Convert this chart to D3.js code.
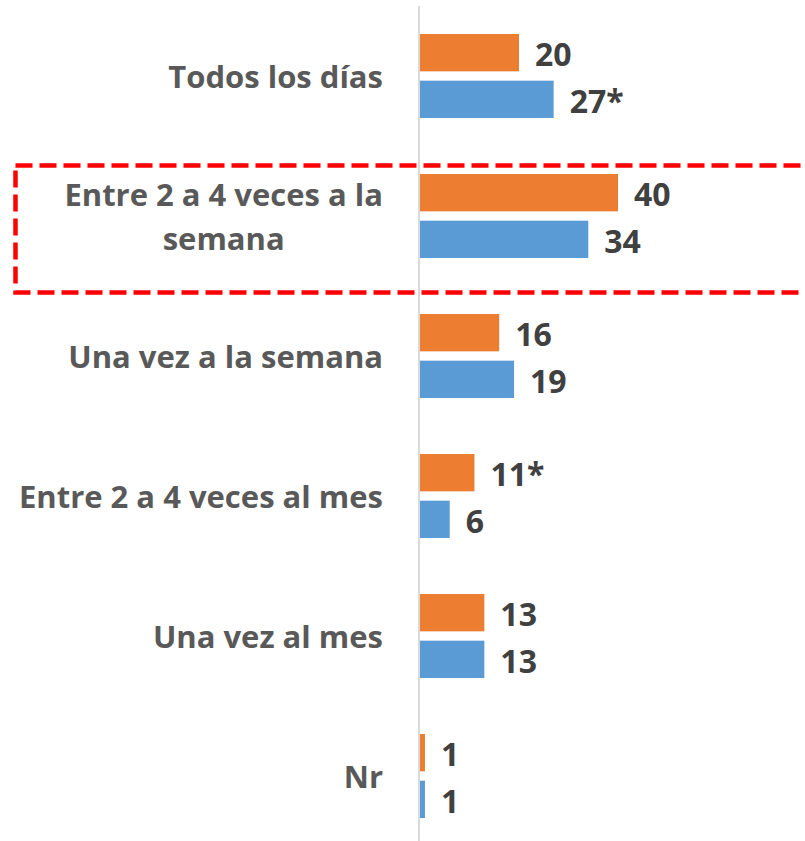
<!DOCTYPE html>
<html>
<head>
<meta charset="utf-8">
<script src="https://cdn.jsdelivr.net/npm/d3@7"></script>
<style>
  body { margin: 0; background: #fff; }
  svg { display: block; }
</style>
</head>
<body>
<div id="chart"></div>
<script>
// categories, top to bottom (each label split into its lines)
const categories = [
    ["Todos los días"],
    ["Entre 2 a 4 veces a la", "semana"],
    ["Una vez a la semana"],
    ["Entre 2 a 4 veces al mes"],
    ["Una vez al mes"],
    ["Nr"]
];
const orangeValues = [20, 40, 16, 11, 13, 1];
const blueValues = [27, 34, 19, 6, 13, 1];
const orangeLabels = ["20", "40", "16", "11*", "13", "1"];
const blueLabels = ["27*", "34", "19", "6", "13", "1"];

const width = 805;
const height = 841;
const font = "'Open Sans', Lato, sans-serif";

const svg = d3.select("#chart").append("svg")
    .attr("width", width)
    .attr("height", height);

const xScale = d3.scaleLinear().domain([0, 40]).range([420, 618]);
const yScale = d3.scaleBand()
    .domain(d3.range(categories.length))
    .range([0, 840]);
const inner = d3.scaleBand()
    .domain(["orange", "blue"])
    .range([34, 118])
    .paddingInner(0.2);

const series = [
    {key: "orange", values: orangeValues, labels: orangeLabels, color: "#ED7D31"},
    {key: "blue", values: blueValues, labels: blueLabels, color: "#5B9BD5"}
];

// dashed box round the 2nd category
svg.append("rect")
    .attr("x", 15.5)
    .attr("y", 165.5)
    .attr("width", 820)
    .attr("height", 127)
    .attr("fill", "none")
    .attr("stroke", "#FF0000")
    .attr("stroke-width", 4.5)
    .attr("stroke-dasharray", "17 7");

// axis line
svg.append("line")
    .attr("x1", 419).attr("x2", 419)
    .attr("y1", 6).attr("y2", height)
    .attr("stroke", "#D9D9D9")
    .attr("stroke-width", 2);

series.forEach(s => {
    const g = svg.append("g");
    g.selectAll("rect")
        .data(s.values)
        .join("rect")
        .attr("x", xScale(0))
        .attr("y", (d, i) => yScale(i) + inner(s.key))
        .attr("width", d => xScale(d) - xScale(0))
        .attr("height", inner.bandwidth())
        .attr("fill", s.color);
    g.selectAll("text")
        .data(s.values)
        .join("text")
        .attr("x", d => xScale(d) + 16)
        .attr("y", (d, i) => yScale(i) + inner(s.key) + inner.bandwidth() / 2)
        .attr("dy", "0.42em")
        .attr("font-family", font)
        .attr("font-weight", "bold")
        .attr("font-size", "32px")
        .attr("fill", "#404040")
        .text((d, i) => s.labels[i]);
});

// category labels
const lineHeight = 44;
const labels = svg.selectAll(".cat")
    .data(categories)
    .join("text")
    .attr("class", "cat")
    .attr("font-family", font)
    .attr("font-weight", "bold")
    .attr("font-size", "31px")
    .attr("fill", "#595959")
    .attr("text-anchor", "middle");

labels.each(function(lines, i) {
    const t = d3.select(this);
    const cy = yScale(i) + 77;
    lines.forEach((line, j) => {
        t.append("tspan")
            .attr("x", 0)
            .attr("y", cy + (j - (lines.length - 1) / 2) * lineHeight)
            .attr("dy", "0.36em")
            .text(line);
    });
    // right-align the block at x = 383, lines centred inside it
    const w = this.getBBox().width;
    t.selectAll("tspan").attr("x", 383 - w / 2);
});
</script>
</body>
</html>
